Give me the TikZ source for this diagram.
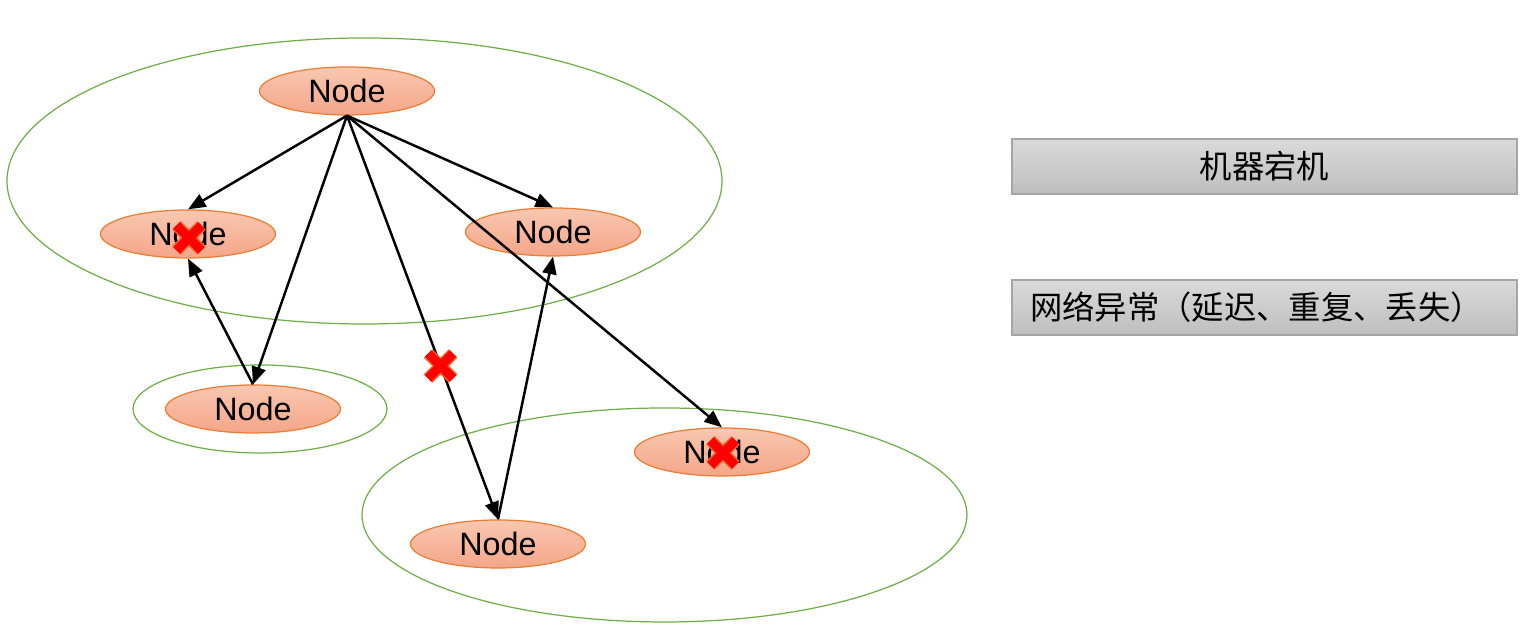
\documentclass[tikz,border=0pt]{standalone}
\usepackage{fontspec}
\setmainfont{Liberation Sans}
\newfontfamily\cjk{Noto Sans CJK SC}
\usetikzlibrary{shapes.geometric}
\usetikzlibrary{arrows.meta}
\usepackage{xcolor}
\definecolor{nodetop}{HTML}{F9C7B1}
\definecolor{nodebot}{HTML}{F4A688}
\definecolor{nodeline}{HTML}{ED7D31}
\definecolor{groupline}{HTML}{70AD47}
\definecolor{boxtop}{HTML}{DADADA}
\definecolor{boxbot}{HTML}{BEBEBE}
\definecolor{boxline}{HTML}{A5A5A5}
\tikzset{
 pnode/.style={ellipse, draw=nodeline, line width=0.35pt, top color=nodetop, bottom color=nodebot,
  minimum width=17.5mm, minimum height=4.8mm, inner sep=0pt, font=\fontsize{9.2}{11}\selectfont},
 group/.style={draw=groupline, line width=0.35pt},
 msg/.style={draw=black, line width=0.7pt, -{Triangle[length=5pt,width=4pt]}},
 legend/.style={draw=boxline, line width=0.35pt, top color=boxtop, bottom color=boxbot,
  minimum width=50.5mm, minimum height=5.5mm, inner xsep=1.8mm, inner ysep=0pt,
  text width=46.9mm, font=\fontsize{9.2}{11}\selectfont\cjk},
 fault/.pic={
  \draw[nodeline!80!red, line width=1.2mm] (-1.25mm,-1.25mm) -- (1.25mm,1.25mm) (-1.25mm,1.25mm) -- (1.25mm,-1.25mm);
  \draw[red, line width=0.9mm] (-1.25mm,-1.25mm) -- (1.25mm,1.25mm) (-1.25mm,1.25mm) -- (1.25mm,-1.25mm);
 }
}
\begin{document}
\begin{tikzpicture}[x=0.1mm, y=-0.1mm]
\useasboundingbox (0,0) rectangle (1530,630);
% machine groups
\draw[group] (364.5,181) ellipse [x radius=35.75mm, y radius=14.3mm];
\draw[group] (260,409) ellipse [x radius=12.7mm, y radius=4.4mm];
\draw[group] (664.5,515) ellipse [x radius=30.25mm, y radius=10.7mm];
% nodes
\node[pnode] (top)   at (347,91)  {Node};
\node[pnode] (left)  at (188,234) {Node};
\node[pnode] (right) at (553,232) {Node};
\node[pnode] (mid)   at (253,409) {Node};
\node[pnode] (far)   at (722,452) {Node};
\node[pnode] (low)   at (498,544) {Node};
% messages
\draw[msg] (top.south) -- (left.north);
\draw[msg] (top.south) -- (mid.north);
\draw[msg] (top.south) -- coordinate[pos=0.62] (lost) (low.north);
\draw[msg] (top.south) -- (right.north);
\draw[msg] (top.south) -- (far.north);
\draw[msg] (mid.north) -- (left.south);
\draw[msg] (low.north) -- (right.south);
% failures
\pic at ([shift={(1,4)}]left.center) {fault};
\pic at ([shift={(1,1)}]far.center) {fault};
\pic at (lost) {fault};
% legend
\node[legend, align=center] (crash) at (1264.5,166.5) {机器宕机};
\node[legend, align=left] (net) at (1264.5,307.5) {网络异常（延迟、重复、丢失）};
\end{tikzpicture}
\end{document}
